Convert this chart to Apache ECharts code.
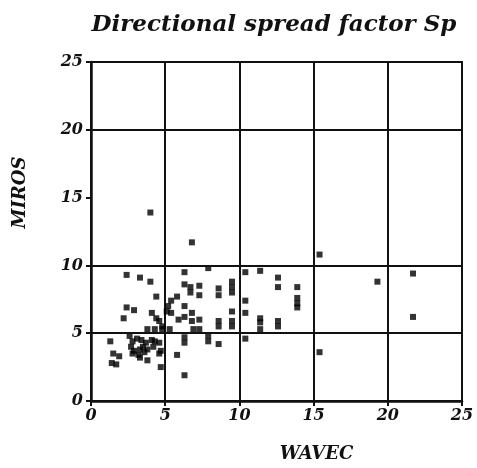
<!DOCTYPE html>
<html>
<head>
<meta charset="utf-8">
<script src="https://cdn.jsdelivr.net/npm/echarts@6/dist/echarts.min.js"></script>
<style>html,body{margin:0;padding:0;background:#fff;}#c{width:477px;height:468px;}</style>
</head>
<body>
<div id="c"></div>
<script>
const titleText = 'Directional spread factor Sp';
const xName = 'WAVEC';
const yName = 'MIROS';
const xTicks = [0, 5, 10, 15, 20, 25];
const yTicks = [0, 5, 10, 15, 20, 25];
const hLines = [5, 10, 20];
const wavec = [4.0,6.8,15.4,19.3,21.7,21.7,15.4,
 2.4,3.3,4.0,4.4,2.4,2.9,2.2,4.1,4.4,4.6,4.8,3.8,4.3,4.8,
 5.1,5.2,5.4,5.8,5.3,5.4,5.9,6.3,6.3,6.8,6.8,7.3,6.9,7.3,6.3,7.9,6.3,6.7,6.7,7.3,7.3,8.6,8.6,9.5,9.5,9.5,9.5,9.5,9.5,8.6,8.6,
 10.4,11.4,12.6,12.6,13.9,13.9,13.9,13.9,10.4,10.4,11.4,11.4,11.4,12.6,12.6,
 10.4,7.9,7.9,8.6,6.3,6.3,5.8,6.3,
 1.3,1.5,1.9,1.4,1.7,2.6,2.8,2.7,2.9,2.8,3.2,3.3,3.5,3.4,3.7,3.8,4.1,4.2,3.8,4.6,4.7,4.6,3.1,4.3,4.7,3.6,3.3];
const miros = [13.9,11.7,10.8,8.8,9.4,6.2,3.6,
 9.3,9.1,8.8,7.7,6.9,6.7,6.1,6.5,6.1,5.9,5.5,5.3,5.3,5.3,
 6.6,7.0,7.4,7.7,5.3,6.5,6.0,7.0,6.2,6.5,5.9,6.0,5.3,5.3,9.5,9.8,8.6,8.4,8.0,8.5,7.8,8.3,7.8,8.8,8.4,8.0,6.6,5.9,5.5,5.9,5.5,
 9.5,9.6,9.1,8.4,8.4,7.6,7.2,6.9,7.4,6.5,6.1,5.8,5.3,5.9,5.5,
 4.6,4.8,4.4,4.2,4.7,4.3,3.4,1.9,
 4.4,3.5,3.3,2.8,2.7,4.8,4.4,4.0,3.7,3.5,3.4,3.2,4.0,4.5,4.3,3.8,4.5,4.0,3.0,3.5,2.5,4.3,4.6,4.4,3.7,3.6,3.8];

const points = wavec.map((x, i) => [x, miros[i]]);
const font = '"DejaVu Serif", "Liberation Serif", serif';
const chart = echarts.init(document.getElementById('c'));
chart.setOption({
  animation: false,
  backgroundColor: '#fff',
  title: {
    text: titleText, left: 269, top: 9, textAlign: 'center',
    textStyle: { fontFamily: font, fontStyle: 'italic', fontWeight: 'bold', fontSize: 23, color: '#111' }
  },
  grid: { left: 91, top: 62, width: 371, height: 339, show: true, borderColor: '#111', borderWidth: 2, backgroundColor: 'transparent' },
  xAxis: {
    type: 'value', min: xTicks[0], max: xTicks[xTicks.length - 1], interval: 5,
    name: xName, nameLocation: 'middle', nameGap: 44,
    nameTextStyle: { fontFamily: font, fontStyle: 'italic', fontWeight: 'bold', fontSize: 18, color: '#111', padding: [0, 0, 0, 80] },
    axisLine: { show: true, lineStyle: { color: '#111', width: 2.5 } },
    axisTick: { show: true, inside: false, length: 5, lineStyle: { color: '#111', width: 2 } },
    axisLabel: { margin: 7, fontFamily: font, fontStyle: 'italic', fontWeight: 'bold', fontSize: 16, color: '#111' },
    splitLine: { show: true, lineStyle: { color: '#111', width: 2 } }
  },
  yAxis: {
    type: 'value', min: yTicks[0], max: yTicks[yTicks.length - 1], interval: 5,
    name: yName, nameLocation: 'middle', nameGap: 62,
    nameTextStyle: { fontFamily: font, fontStyle: 'italic', fontWeight: 'bold', fontSize: 18, color: '#111', padding: [0, 0, 0, 78] },
    axisLine: { show: true, lineStyle: { color: '#111', width: 2.5 } },
    axisTick: { show: true, inside: false, length: 5, lineStyle: { color: '#111', width: 2 } },
    axisLabel: { margin: 8, fontFamily: font, fontStyle: 'italic', fontWeight: 'bold', fontSize: 16, color: '#111' },
    splitLine: { show: false }
  },
  series: [{
    type: 'scatter',
    data: points,
    symbol: 'rect',
    symbolSize: 6,
    itemStyle: { color: '#000' },
    markLine: {
      silent: true, symbol: 'none', label: { show: false },
      lineStyle: { color: '#111', width: 2, type: 'solid' },
      data: hLines.map(v => ({ yAxis: v }))
    }
  }]
});
</script>
</body>
</html>
